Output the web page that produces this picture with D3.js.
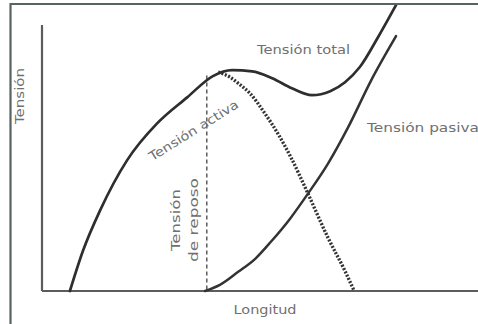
<!DOCTYPE html>
<html>
<head>
<meta charset="utf-8">
<script src="https://cdn.jsdelivr.net/npm/d3@7"></script>
<style>
  html, body { margin: 0; padding: 0; background: #fff; }
  svg { display: block; }
  text { font-family: "DejaVu Sans", "Liberation Sans", sans-serif; fill: #707070; }
</style>
</head>
<body>
<div id="chart"></div>
<script>
// Length–tension relationship of skeletal muscle (arbitrary units, 0–100)
const totalLength   = [6.4, 9.4, 13.3, 19.5, 26.4, 33.3, 39.2, 43.6, 48.2, 52.8, 57.3, 61.9, 66.1, 69.5, 72.9, 77.1, 81.2];
const totalTension  = [0, 15.1, 30.2, 49.1, 63.0, 72.8, 80.8, 83.0, 82.6, 80.0, 76.2, 73.6, 75.1, 78.5, 84.2, 95.5, 107.5];

const passiveLength  = [37.4, 40.8, 45.0, 48.9, 52.5, 56.9, 61.0, 65.6, 70.2, 75.5, 81.2];
const passiveTension = [0, 2.3, 7.2, 12.1, 18.5, 27.2, 36.6, 47.9, 61.5, 79.2, 95.8];

const activeLength  = [40.4, 43.1, 45.0, 47.7, 51.1, 54.1, 57.1, 61.0, 65.6, 69.5, 71.6];
const activeTension = [82.3, 80.4, 78.1, 74.3, 66.8, 59.2, 50.2, 36.6, 20.0, 7.5, 0];

const restLength  = 37.8;   // resting length
const restTension = 81;     // tension reached at resting length

const labels = {
  y: "Tensión",
  x: "Longitud",
  total: "Tensión total",
  passive: "Tensión pasiva",
  active: "Tensión activa",
  rest: ["Tensión", "de reposo"]
};

const W = 478, H = 324;
const svg = d3.select("#chart").append("svg")
  .attr("width", W).attr("height", H);

const x = d3.scaleLinear().domain([0, 100]).range([42, 478]);
const y = d3.scaleLinear().domain([0, 100]).range([291, 25]);

// page frame (left and top edges)
svg.append("path")
  .attr("d", `M10.5,${H} L10.5,4 L${W},4`)
  .attr("fill", "none").attr("stroke", "#566464").attr("stroke-width", 2.2);

svg.append("clipPath").attr("id", "plotclip")
  .append("rect").attr("x", 12).attr("y", 5).attr("width", W).attr("height", H);

// axes as plain lines (no ticks)
const axisG = svg.append("g");
axisG.append("line")
  .attr("x1", x(0)).attr("x2", x(0)).attr("y1", y(100)).attr("y2", y(0))
  .attr("stroke", "#5c5c5c").attr("stroke-width", 2.2);
axisG.append("line")
  .attr("x1", x(0)).attr("x2", x(100)).attr("y1", y(0)).attr("y2", y(0))
  .attr("stroke", "#5c5c5c").attr("stroke-width", 2.2);

const line = d3.line()
  .x(d => x(d[0])).y(d => y(d[1]))
  .curve(d3.curveMonotoneX);

const zip = (a, b) => a.map((v, i) => [v, b[i]]);

const plot = svg.append("g").attr("clip-path", "url(#plotclip)");

// resting length marker
plot.append("line")
  .attr("x1", x(restLength)).attr("x2", x(restLength))
  .attr("y1", y(restTension)).attr("y2", y(0))
  .attr("stroke", "#444").attr("stroke-width", 1.3)
  .attr("stroke-dasharray", "4,3");

// active tension (dotted)
plot.append("path")
  .attr("d", line(zip(activeLength, activeTension)))
  .attr("fill", "none").attr("stroke", "#333")
  .attr("stroke-width", 3.4).attr("stroke-dasharray", "2,1.6");

// passive tension
plot.append("path")
  .attr("d", line(zip(passiveLength, passiveTension)))
  .attr("fill", "none").attr("stroke", "#333")
  .attr("stroke-width", 2.5).attr("stroke-linecap", "round");

// total tension
plot.append("path")
  .attr("d", line(zip(totalLength, totalTension)))
  .attr("fill", "none").attr("stroke", "#2e2e2e")
  .attr("stroke-width", 2.7).attr("stroke-linecap", "round");

// labels
const fs = 12.5;
svg.append("text")
  .attr("transform", "translate(24,96) rotate(-90)")
  .attr("text-anchor", "middle").attr("font-size", fs)
  .attr("textLength", 56).attr("lengthAdjust", "spacingAndGlyphs")
  .text(labels.y);

svg.append("text")
  .attr("x", 265).attr("y", 314)
  .attr("text-anchor", "middle").attr("font-size", fs)
  .attr("textLength", 63).attr("lengthAdjust", "spacingAndGlyphs")
  .text(labels.x);

svg.append("text")
  .attr("x", 257).attr("y", 54).attr("font-size", fs)
  .attr("textLength", 93).attr("lengthAdjust", "spacingAndGlyphs")
  .text(labels.total);

svg.append("text")
  .attr("x", 367).attr("y", 131.5).attr("font-size", fs)
  .attr("textLength", 112).attr("lengthAdjust", "spacingAndGlyphs")
  .text(labels.passive);

svg.append("text")
  .attr("transform", "translate(196,134) rotate(-32)")
  .attr("text-anchor", "middle").attr("font-size", fs)
  .attr("textLength", 103).attr("lengthAdjust", "spacingAndGlyphs")
  .text(labels.active);

const rest = svg.append("text")
  .attr("transform", "translate(180,220) rotate(-90)")
  .attr("text-anchor", "middle").attr("font-size", fs);
rest.append("tspan").attr("x", 0).attr("y", 0)
  .attr("textLength", 62).attr("lengthAdjust", "spacingAndGlyphs")
  .text(labels.rest[0]);
rest.append("tspan").attr("x", 0).attr("y", 18)
  .attr("textLength", 84).attr("lengthAdjust", "spacingAndGlyphs")
  .text(labels.rest[1]);
</script>
</body>
</html>
